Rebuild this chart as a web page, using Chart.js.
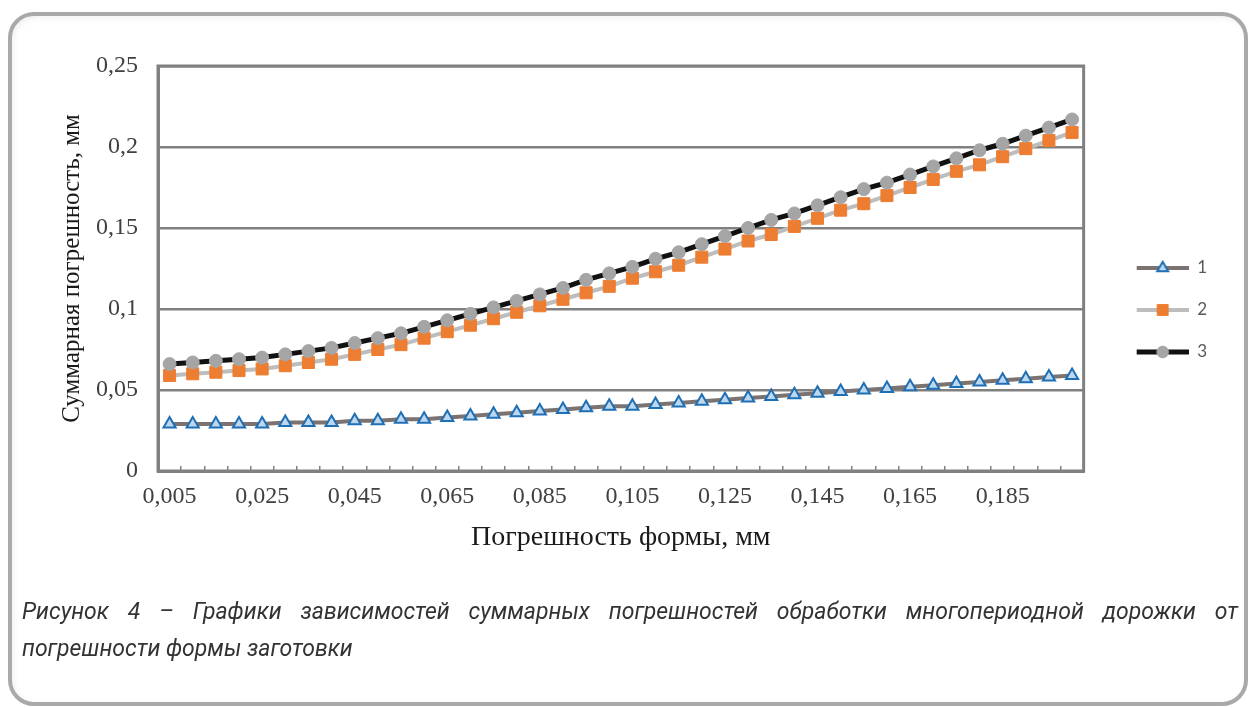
<!DOCTYPE html>
<html>
<head>
<meta charset="utf-8">
<script src="https://cdn.jsdelivr.net/npm/chart.js@4/dist/chart.umd.min.js"></script>
<style>
  html, body { margin: 0; padding: 0; background: #fff; }
  body { width: 1252px; height: 708px; position: relative; overflow: hidden; }
  .frame {
    position: absolute; left: 8px; top: 12px; width: 1240px; height: 694px;
    box-sizing: border-box; border: 4px solid #a9a9a9; border-radius: 26px;
    box-shadow: inset 2px 2px 6px rgba(0,0,0,0.06);
  }
  #chart { position: absolute; left: 0; top: 0; }
  .caption {
    position: absolute; left: 22px; top: 593px; width: 1216px;
    font-family: "Roboto", "Noto Sans", sans-serif; font-style: italic;
    font-size: 23px; line-height: 37px; color: #333;
  }
  .caption .l1 { text-align: justify; text-align-last: justify; }
</style>
</head>
<body>
<div class="frame"></div>
<canvas id="chart" width="1252" height="620"></canvas>
<div class="caption">
  <div class="l1">Рисунок 4 – Графики зависимостей суммарных погрешностей обработки многопериодной дорожки от</div>
  <div>погрешности формы заготовки</div>
</div>
<script>
// x categories: form error, mm
const xLabels = [
  "0,005", "0,01", "0,015", "0,02", "0,025", "0,03", "0,035", "0,04", "0,045", "0,05",
  "0,055", "0,06", "0,065", "0,07", "0,075", "0,08", "0,085", "0,09", "0,095", "0,1",
  "0,105", "0,11", "0,115", "0,12", "0,125", "0,13", "0,135", "0,14", "0,145", "0,15",
  "0,155", "0,16", "0,165", "0,17", "0,175", "0,18", "0,185", "0,19", "0,195", "0,2"
];
const seriesNames = ["1", "2", "3"];
const series1 = [
  0.029, 0.029, 0.029, 0.029, 0.029, 0.030, 0.030, 0.030, 0.031, 0.031,
  0.032, 0.032, 0.033, 0.034, 0.035, 0.036, 0.037, 0.038, 0.039, 0.040,
  0.040, 0.041, 0.042, 0.043, 0.044, 0.045, 0.046, 0.047, 0.048, 0.049,
  0.050, 0.051, 0.052, 0.053, 0.054, 0.055, 0.056, 0.057, 0.058, 0.059
];
const series2 = [
  0.059, 0.060, 0.061, 0.062, 0.063, 0.065, 0.067, 0.069, 0.072, 0.075,
  0.078, 0.082, 0.086, 0.090, 0.094, 0.098, 0.102, 0.106, 0.110, 0.114,
  0.119, 0.123, 0.127, 0.132, 0.137, 0.142, 0.146, 0.151, 0.156, 0.161,
  0.165, 0.170, 0.175, 0.180, 0.185, 0.189, 0.194, 0.199, 0.204, 0.209
];
const series3 = [
  0.066, 0.067, 0.068, 0.069, 0.070, 0.072, 0.074, 0.076, 0.079, 0.082,
  0.085, 0.089, 0.093, 0.097, 0.101, 0.105, 0.109, 0.113, 0.118, 0.122,
  0.126, 0.131, 0.135, 0.140, 0.145, 0.150, 0.155, 0.159, 0.164, 0.169,
  0.174, 0.178, 0.183, 0.188, 0.193, 0.198, 0.202, 0.207, 0.212, 0.217
];
const yTicks = [0, 0.05, 0.1, 0.15, 0.2, 0.25];

const styles = [
  { line: "#7b7371", width: 4, point: "triangle", fill: "#bdd7ee", stroke: "#1f6fb5", r: 7, bw: 2 },
  { line: "#bdbdbd", width: 4, point: "rect", fill: "#ed7d31", stroke: "#ed7d31", r: 8.5, bw: 1 },
  { line: "#111111", width: 5, point: "circle", fill: "#a5a5a5", stroke: "#a5a5a5", r: 6.5, bw: 1 }
];

// legend icons: line with the marker in the middle
function legendIcon(s) {
  const c = document.createElement("canvas");
  c.width = 80; c.height = 20;
  const ctx = c.getContext("2d");
  ctx.strokeStyle = s.line;
  ctx.lineWidth = s.width;
  ctx.beginPath(); ctx.moveTo(28, 10); ctx.lineTo(80, 10); ctx.stroke();
  ctx.fillStyle = s.fill;
  ctx.strokeStyle = s.stroke;
  ctx.lineWidth = s.bw;
  Chart.helpers.drawPoint(ctx, { pointStyle: s.point, radius: s.r * 0.9, rotation: 0, borderWidth: s.bw }, 54, 10);
  return c;
}
const icons = styles.map(legendIcon);

const plotFrame = {
  id: "plotFrame",
  beforeDatasetsDraw(chart) {
    const { ctx, chartArea: a } = chart;
    ctx.save();
    ctx.strokeStyle = "#808080";
    ctx.lineWidth = 3;
    ctx.strokeRect(a.left, a.top, a.right - a.left, a.bottom - a.top);
    ctx.restore();
  }
};

const serif = "'Liberation Serif', 'Times New Roman', serif";
const data = [series1, series2, series3];
new Chart(document.getElementById("chart"), {
  type: "line",
  data: {
    labels: xLabels,
    datasets: data.map((d, i) => ({
      label: seriesNames[i],
      data: d,
      order: 2 - i,
      borderColor: styles[i].line,
      borderWidth: styles[i].width,
      pointStyle: styles[i].point,
      pointRadius: styles[i].r,
      pointBackgroundColor: styles[i].fill,
      pointBorderColor: styles[i].stroke,
      pointBorderWidth: styles[i].bw,
      tension: 0,
      fill: false
    }))
  },
  options: {
    responsive: false,
    animation: false,
    devicePixelRatio: 1,
    layout: { padding: { left: 20, right: 35, top: 66, bottom: 66 } },
    plugins: {
      tooltip: { enabled: false },
      legend: {
        position: "right",
        labels: {
          usePointStyle: true,
          pointStyleWidth: 80,
          padding: 25,
          color: "#595959",
          font: { family: "Lato, 'Open Sans', sans-serif", size: 17 },
          sort: (a, b) => a.datasetIndex - b.datasetIndex,
          generateLabels(chart) {
            const items = Chart.defaults.plugins.legend.labels.generateLabels(chart);
            items.forEach(it => { it.pointStyle = icons[it.datasetIndex]; });
            return items;
          }
        }
      }
    },
    scales: {
      x: {
        offset: true,
        afterFit(scale) { scale.height = 83; },
        grid: { offset: true, drawOnChartArea: false, drawTicks: true, tickLength: -5, color: "#808080", lineWidth: 1.5 },
        border: { display: true, color: "#808080", width: 3 },
        ticks: {
          autoSkip: false, maxRotation: 0, padding: 16,
          color: "#404040",
          font: { family: serif, size: 24 },
          callback: (v, i) => (i % 4 === 0 ? xLabels[i] : "")
        },
        title: {
          display: true, text: "Погрешность формы, мм", color: "#1a1a1a",
          font: { family: serif, size: 28 },
          padding: { top: 0, bottom: 0 }
        }
      },
      y: {
        min: 0, max: 0.25,
        afterFit(scale) { scale.width = 138; },
        afterBuildTicks(scale) { scale.ticks = yTicks.map(v => ({ value: v })); },
        grid: { drawTicks: false, color: "#808080", lineWidth: 2.5 },
        border: { display: true, color: "#808080", width: 3 },
        ticks: {
          padding: 20, color: "#404040",
          font: { family: serif, size: 24 },
          callback: v => String(Number(v.toFixed(2))).replace(".", ",")
        },
        title: {
          display: true, text: "Суммарная погрешность, мм", color: "#1a1a1a",
          font: { family: serif, size: 25 },
          padding: { top: 37, bottom: 0 }
        }
      }
    }
  },
  plugins: [plotFrame]
});
</script>
</body>
</html>
